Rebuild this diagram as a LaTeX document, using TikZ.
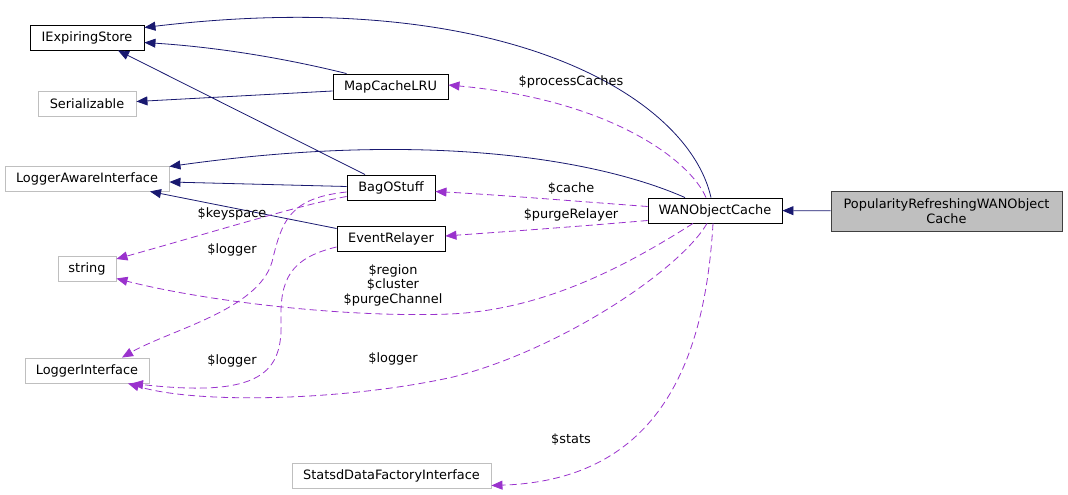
\documentclass[tikz,border=0pt]{standalone}
\usepackage{fontspec}
\setmainfont{DejaVu Sans}
\usepackage{xcolor}
\definecolor{navyedge}{HTML}{191970}
\definecolor{orchid}{HTML}{9A32CD}
\definecolor{extgray}{HTML}{BFBFBF}
\definecolor{basegray}{HTML}{BFBFBF}
\usetikzlibrary{arrows.meta}
\tikzset{
  cls/.style={draw=black, fill=white, line width=0.9pt, inner sep=0pt, minimum height=25, font=\fontsize{12.9}{14.5}\selectfont, align=center},
  ext/.style={cls, draw=extgray},
  sel/.style={cls, fill=basegray, draw=black!75, minimum height=40},
  inh/.style={-{Triangle[length=11,width=9]}, navyedge, line width=0.8pt},
  use/.style={-{Triangle[length=11,width=9]}, orchid, line width=0.8pt, dash pattern=on 7pt off 4pt},
  lbl/.style={font=\fontsize{12.9}{14.5}\selectfont, align=center, inner sep=0pt},
}

\begin{document}
\begin{tikzpicture}[x=1pt, y=-1pt]
  \useasboundingbox (0,0) rectangle (1068,495);
  % classes
  \node[cls, minimum width=114] (ies) at (87,37.5) {IExpiringStore};
  \node[ext, minimum width=98] (ser) at (87,103.5) {Serializable};
  \node[ext, minimum width=164] (lai) at (87,178.5) {LoggerAwareInterface};
  \node[ext, minimum width=58] (str) at (87,268.5) {string};
  \node[ext, minimum width=124] (li) at (87,370.5) {LoggerInterface};
  \node[ext, minimum width=199] (sdf) at (391.5,475.5) {StatsdDataFactoryInterface};
  \node[cls, minimum width=115] (mc) at (390.5,86.5) {MapCacheLRU};
  \node[cls, minimum width=88] (bag) at (391,187.5) {BagOStuff};
  \node[cls, minimum width=108] (er) at (391,238.5) {EventRelayer};
  \node[cls, minimum width=134] (wan) at (715,210.5) {WANObjectCache};
  \node[sel, minimum width=231] (pr) at (946.5,211) {PopularityRefreshingWANObject\\Cache};
  % inheritance
  \draw[inh] (pr) -- (wan);
  \draw[inh] ([xshift=-4]wan.north) .. controls (688,95) and (500,-15) .. ([yshift=10]ies.east);
  \draw[inh] ([xshift=-44]mc.north) .. controls (300,62) and (230,48) .. ([yshift=-5]ies.east);
  \draw[inh] ([xshift=-26]bag.north) -- ([xshift=31]ies.south);
  \draw[inh] ([yshift=-4.5]mc.west) -- ([yshift=2]ser.east);
  \draw[inh] ([xshift=-30]wan.north) .. controls (600,160) and (430,130) .. ([yshift=12]lai.east);
  \draw[inh] ([yshift=1]bag.west) -- ([yshift=-3.5]lai.east);
  \draw[inh] ([yshift=10]er.west) -- ([xshift=63]lai.south);
  % members
  \draw[use] ([xshift=-9]wan.north) .. controls (690,160) and (610,100) .. ([yshift=1.5]mc.east);
  \draw[use] ([yshift=4]wan.west) .. controls (560,200) and (500,195) .. ([yshift=-4]bag.east);
  \draw[use] ([yshift=-10]wan.west) .. controls (560,228) and (500,232) .. ([yshift=2.5]er.east);
  \draw[use] ([xshift=-22]wan.south) .. controls (620,270) and (540,310) .. (450,314)
    .. controls (340,318) and (200,300) .. ([yshift=-10]str.east);
  \draw[use] ([xshift=-8]wan.south) .. controls (680,270) and (560,350) .. (453,377)
    .. controls (350,400) and (200,405) .. ([xshift=41]li.south);
  \draw[use] ([xshift=-2]wan.south) .. controls (705,360) and (660,480) .. ([yshift=-10]sdf.east);
  \draw[use] ([yshift=-9]bag.west) .. controls (300,205) and (220,230) .. ([yshift=9.5]str.east);
  \draw[use] ([yshift=-4.5]bag.west) .. controls (290,198) and (282,220) .. (272,262)
    .. controls (258,310) and (170,330) .. ([xshift=35]li.north);
  \draw[use] ([yshift=-8.5]er.west) .. controls (290,258) and (280,280) .. (281,320)
    .. controls (283,372) and (262,398) .. ([xshift=45]li.south);
  % labels
  \node[lbl] (lpc) at (571,82) {\$processCaches};
  \node[lbl] (lca) at (571,189) {\$cache};
  \node[lbl] (lpr) at (571,215) {\$purgeRelayer};
  \node[lbl] (lks) at (232,214) {\$keyspace};
  \node[lbl] (llb) at (232,250) {\$logger};
  \node[lbl] (lrg) at (393,285) {\$region\\\$cluster\\\$purgeChannel};
  \node[lbl] (lle) at (232,361) {\$logger};
  \node[lbl] (llw) at (393,359) {\$logger};
  \node[lbl] (lst) at (571,440) {\$stats};
\end{tikzpicture}
\end{document}
